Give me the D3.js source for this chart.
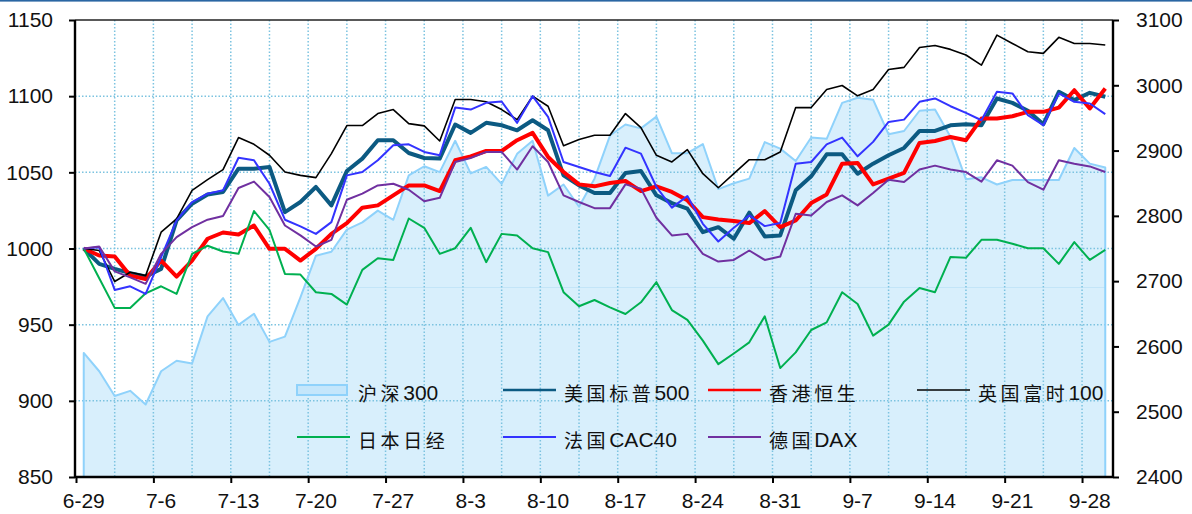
<!DOCTYPE html>
<html>
<head>
<meta charset="utf-8">
<script src="https://cdn.jsdelivr.net/npm/d3@7"></script>
<style>
  html, body { margin: 0; padding: 0; background: #fff; }
  svg { display: block; }
</style>
</head>
<body>
<svg id="chart" width="1192" height="514"></svg>
<script>
// Trading days (weekdays), 2015-06-29 .. 2015-09-29
const days = [
  "6-29","6-30","7-1","7-2","7-3",
  "7-6","7-7","7-8","7-9","7-10",
  "7-13","7-14","7-15","7-16","7-17",
  "7-20","7-21","7-22","7-23","7-24",
  "7-27","7-28","7-29","7-30","7-31",
  "8-3","8-4","8-5","8-6","8-7",
  "8-10","8-11","8-12","8-13","8-14",
  "8-17","8-18","8-19","8-20","8-21",
  "8-24","8-25","8-26","8-27","8-28",
  "8-31","9-1","9-2","9-3","9-4",
  "9-7","9-8","9-9","9-10","9-11",
  "9-14","9-15","9-16","9-17","9-18",
  "9-21","9-22","9-23","9-24","9-25",
  "9-28","9-29"
];

// Weekly category labels shown on the x axis
const weekLabels = ["6-29","7-6","7-13","7-20","7-27","8-3","8-10","8-17","8-24","8-31","9-7","9-14","9-21","9-28"];

// Axis ticks
const leftTicks = [850, 900, 950, 1000, 1050, 1100, 1150];
const rightTicks = [2400, 2500, 2600, 2700, 2800, 2900, 3000, 3100];

// CSI 300 (right axis)
const hs300 = [2590,2562,2524,2532,2511,2562,2578,2574,2646,2674,
  2633,2650,2607,2615,2675,2739,2745,2779,2790,2808,
  2794,2862,2876,2867,2915,2865,2875,2849,2895,2915,
  2831,2848,2814,2857,2923,2940,2934,2952,2896,2896,
  2910,2841,2850,2857,2913,2903,2884,2920,2918,2973,
  2981,2978,2925,2930,2961,2963,2921,2856,2859,2848,
  2855,2855,2855,2855,2904,2880,2874];

// Rebased overseas indices (left axis, 6-29 = 1000)
const spx = [1000,989.9,986.6,983.8,981.6,986.6,1018.4,1029.4,1035.5,1037.1,1052.4,1052.4,
  1053.5,1023.9,1030.5,1040.4,1028.3,1050.9,1059,1071.1,1071.1,1062.7,1059.4,
  1059,1081.4,1075.9,1082.5,1080.9,1077.6,1084.2,1077.6,1048,1041.4,1036.4,
  1036.4,1049.6,1050.9,1034.9,1029.8,1026.1,1010.7,1014,1006.4,1023.5,1007.9,1008.6,
  1038.2,1047.4,1061.8,1061.8,1049.1,1055.7,1061.2,1066,1077.2,1077.2,1080.9,
  1081.6,1080.9,1098.5,1095.6,1090.4,1081.6,1102.9,1097.4,1102.2,1099.6];

const hsi = [1000,995.4,994.7,982.2,980,992.1,981.6,992.1,1006.4,1010.5,1009.2,1015.1,
  999.8,999.8,992.1,999.8,1009.6,1016.7,1026.8,1028.3,1034.9,1041.4,1041.4,
  1037.7,1057.9,1060.5,1064,1064,1071.1,1075.9,1060.1,1050.2,1042.1,1040.8,
  1043,1044.3,1037.7,1040.8,1037.1,1031.6,1020.6,1019.1,1018,1016.7,1024.6,1014,
  1018.4,1029.8,1035.5,1055.7,1056.1,1042.1,1045.8,1049.6,1069.3,1070.6,1073.2,
  1071.1,1085.3,1085.3,1086.8,1089.7,1089.7,1092.5,1103.9,1091.9,1105];

const ftse = [1000,998.7,978.3,984.4,982.2,1010.7,1019.5,1038.2,1045.2,1051.8,1072.8,1068.4,
  1061.2,1050.2,1048,1046.5,1062.3,1080.7,1080.7,1088.6,1091.2,1082,1080.5,
  1070.6,1097.8,1097.8,1096.3,1091.2,1084.6,1100,1093.4,1067.5,1071.5,1074.3,
  1074.3,1088.6,1079.4,1061.2,1056.8,1064.9,1049.1,1039.9,1049.1,1058.3,1058.3,1063.4,
  1092.5,1092.5,1104.4,1107,1100.2,1104.4,1117.5,1118.9,1132,1133.3,1130.7,
  1127,1120.4,1140.1,1134.6,1129.2,1128.1,1138.6,1134.6,1134.6,1133.6];

const nikkei = [1000,980.5,961,961,970.6,975.2,970.2,996.5,1001.8,998,996.5,1024.6,
  1012.3,983.3,982.9,971.3,970.2,963.2,986,993.6,992.5,1019.7,1013.6,
  996.5,1000.2,1013.6,991,1009.6,1008.6,1000.2,997.6,971.3,962.1,966.2,
  961.4,957,964.7,977.9,959.6,953.1,939.5,924.1,931.1,938.4,955.5,921.5,
  931.8,946.5,951.5,971.3,963.6,942.8,950,965.1,974.1,971.3,994.5,
  993.9,1005.7,1005.7,1003.1,1000.2,1000.2,989.9,1004.2,992.5,999.1];

const cac40 = [1000,1000.9,972.8,975.2,970.2,994.3,1018.4,1030.5,1036,1038.2,1059.6,1057.9,
  1042.5,1018.9,1014.5,1009.6,1017.3,1048,1050.2,1057.9,1067.8,1068.4,1063.4,
  1061.2,1092.5,1091.2,1095.6,1096.5,1082.5,1100,1086.4,1056.8,1053.5,1050.2,
  1047.6,1066.2,1062.3,1040.4,1026.8,1034.4,1016.2,1004.6,1013.6,1021.7,1014.7,1016.7,
  1055.7,1056.8,1068.4,1072.8,1060.5,1070,1083.1,1084.6,1096.3,1098.5,1093.4,
  1089,1084.2,1102.9,1101.8,1087.5,1080.9,1101.8,1096.3,1095.2,1088.2];

const dax = [1000,1001.3,985,981,976.8,996.5,1007.5,1014,1018.9,1021.3,1039.7,1043.9,
  1033.8,1015.1,1008.6,1001.3,1005.7,1032,1036,1041.4,1042.5,1038.6,1031,
  1033.3,1056.8,1059.4,1063.4,1063.4,1051.8,1067.1,1056.8,1034.9,1030.5,1026.5,
  1026.5,1042.1,1039.3,1020.2,1008.6,1009.6,996.5,991.4,992.5,998.7,992.5,994.7,
  1022.8,1021.7,1030.5,1034.9,1028.3,1036.4,1045.2,1043.6,1051.8,1054.4,1051.8,
  1050.2,1043.9,1057.9,1054.4,1043.6,1038.6,1057.9,1055.7,1053.9,1050.2];

const lineSeries = [
  { name: "美国标普500", values: spx,    color: "#0c5a82", width: 4 },
  { name: "香港恒生",    values: hsi,    color: "#ff0000", width: 4 },
  { name: "英国富时100", values: ftse,   color: "#000000", width: 1.6 },
  { name: "日本日经",    values: nikkei, color: "#00b050", width: 2 },
  { name: "法国CAC40",   values: cac40,  color: "#3333ff", width: 2 },
  { name: "德国DAX",     values: dax,    color: "#7030a0", width: 2 }
];

const areaStyle = { name: "沪深300", fill: "#d8effc", stroke: "#8fd2fb" };

const svg = d3.select("#chart");
const W = 1192, H = 514;
const plot = { left: 75, right: 1113, top: 20, bottom: 477 };

const x = d3.scaleLinear().domain([-0.5, days.length - 0.5]).range([plot.left + 1, plot.right]);
const yL = d3.scaleLinear().domain([850, 1150]).range([plot.bottom, plot.top]);
const yR = d3.scaleLinear().domain([2400, 3100]).range([plot.bottom, plot.top]);

// thin rule across the top of the page
svg.append("rect").attr("x", 0).attr("y", 0).attr("width", W).attr("height", 1.6).attr("fill", "#2a66a3");

// CSI 300 area
const area = d3.area()
  .x((d, i) => x(i))
  .y0(yR(2400))
  .y1(d => yR(d));
const areaLine = d3.line().x((d, i) => x(i)).y(d => yR(d));

svg.append("clipPath").attr("id", "areaClip")
  .append("path").datum(hs300).attr("d", area);

svg.append("path")
  .datum(hs300)
  .attr("d", area)
  .attr("fill", areaStyle.fill)
  .attr("stroke", "none");

// faint band line inside the filled region
svg.append("line")
  .attr("clip-path", "url(#areaClip)")
  .attr("x1", plot.left).attr("x2", plot.right)
  .attr("y1", 287.5).attr("y2", 287.5)
  .attr("stroke", "#c3e5f8").attr("stroke-width", 1);

// dotted grid
const grid = svg.append("g").attr("class", "grid");
leftTicks.filter(t => t > 850 && t < 1150).forEach(t => {
  grid.append("line")
    .attr("x1", plot.left).attr("x2", plot.right)
    .attr("y1", yL(t)).attr("y2", yL(t))
    .attr("stroke", "#7cc3e0").attr("stroke-width", 1.5)
    .attr("stroke-dasharray", "1.5,2");
});
d3.range(1, 27).forEach(k => {
  const gx = x(2.5 * k - 0.5);
  grid.append("line")
    .attr("x1", gx).attr("x2", gx)
    .attr("y1", plot.top).attr("y2", plot.bottom)
    .attr("stroke", "#7cc3e0").attr("stroke-width", 1.5)
    .attr("stroke-dasharray", "1.5,2");
});

// CSI 300 outline: left edge, top and right edge
svg.append("path")
  .datum(hs300)
  .attr("d", d => {
    const top = areaLine(d);
    return "M" + x(0) + "," + yR(2400) + "L" + top.slice(1) + "L" + x(d.length - 1) + "," + yR(2400);
  })
  .attr("fill", "none")
  .attr("stroke", areaStyle.stroke)
  .attr("stroke-width", 2)
  .attr("stroke-linejoin", "round");

// index lines
const lineL = d3.line().x((d, i) => x(i)).y(d => yL(d));
lineSeries.forEach(s => {
  svg.append("path")
    .datum(s.values)
    .attr("d", lineL)
    .attr("fill", "none")
    .attr("stroke", s.color)
    .attr("stroke-width", s.width)
    .attr("stroke-linejoin", "round");
});

// frame: top border and axes
svg.append("line").attr("x1", plot.left).attr("x2", plot.right)
  .attr("y1", plot.top).attr("y2", plot.top)
  .attr("stroke", "#222").attr("stroke-width", 1.4);

const fontLatin = "'Liberation Sans', Arial, sans-serif";
const fmt = d3.format("d");

const leftAxis = d3.axisLeft(yL).tickValues(leftTicks).tickFormat(fmt).tickSize(6).tickPadding(16);
const gl = svg.append("g").attr("transform", `translate(${plot.left},0)`).call(leftAxis);
const rightAxis = d3.axisRight(yR).tickValues(rightTicks).tickFormat(fmt).tickSize(6).tickPadding(17);
const gr = svg.append("g").attr("transform", `translate(${plot.right},0)`).call(rightAxis);
const bottomAxis = d3.axisBottom(x)
  .tickValues(d3.range(0, 14).map(k => 5 * k - 0.5))
  .tickSize(6).tickFormat(() => "");
const gb = svg.append("g").attr("transform", `translate(0,${plot.bottom})`).call(bottomAxis);

[gl, gr, gb].forEach(g => {
  g.attr("font-size", null).attr("font-family", null);
  g.select(".domain").attr("stroke", "#000").attr("stroke-width", 2.4);
  g.selectAll(".tick line").attr("stroke", "#000").attr("stroke-width", 2);
  g.selectAll("text").attr("font-family", fontLatin).attr("font-size", 21).attr("fill", "#111");
});
gl.select(".domain").attr("d", `M0,${plot.top}V${plot.bottom}`);
gr.select(".domain").attr("d", `M0,${plot.top}V${plot.bottom}`);
gb.select(".domain").attr("d", `M${plot.left},0H${plot.right}`);

// weekly labels sit on the Monday of each week
svg.append("g").selectAll("text")
  .data(weekLabels)
  .join("text")
  .attr("x", (d, k) => x(5 * k))
  .attr("y", 508)
  .attr("text-anchor", "middle")
  .attr("font-family", fontLatin)
  .attr("font-size", 21)
  .attr("fill", "#111")
  .text(d => d);

// legend
const legendItems = [
  { name: areaStyle.name, kind: "area" },
  { name: lineSeries[0].name, kind: "line", s: lineSeries[0] },
  { name: lineSeries[1].name, kind: "line", s: lineSeries[1] },
  { name: lineSeries[2].name, kind: "line", s: lineSeries[2] },
  { name: lineSeries[3].name, kind: "line", s: lineSeries[3] },
  { name: lineSeries[4].name, kind: "line", s: lineSeries[4] },
  { name: lineSeries[5].name, kind: "line", s: lineSeries[5] }
];
const colX = [297, 503, 708, 917];
const rowY = [390, 437];
const legend = svg.append("g").attr("class", "legend");
legendItems.forEach((it, i) => {
  const cx = colX[i % 4], cy = rowY[Math.floor(i / 4)];
  if (it.kind === "area") {
    legend.append("rect").attr("x", cx).attr("y", cy - 5).attr("width", 50).attr("height", 10)
      .attr("fill", "#c4e6fb").attr("stroke", areaStyle.stroke).attr("stroke-width", 2);
  } else {
    legend.append("line").attr("x1", cx).attr("x2", cx + 53).attr("y1", cy).attr("y2", cy)
      .attr("stroke", it.s.color).attr("stroke-width", Math.min(it.s.width, 2.5));
  }
  const t = legend.append("text")
    .attr("x", cx + 61).attr("y", cy + 2)
    .attr("dominant-baseline", "central")
    .attr("fill", "#111");
  // split the label into CJK and Latin runs
  const runs = it.name.match(/[\u4e00-\u9fff]+|[^\u4e00-\u9fff]+/g);
  runs.forEach(r => {
    const cjk = /[\u4e00-\u9fff]/.test(r);
    t.append("tspan")
      .attr("font-family", cjk ? "'Noto Sans CJK SC', sans-serif" : fontLatin)
      .attr("font-size", cjk ? 19 : 21)
      .attr("letter-spacing", cjk ? 3.6 : 0)
      .text(r);
  });
});
</script>
</body>
</html>
